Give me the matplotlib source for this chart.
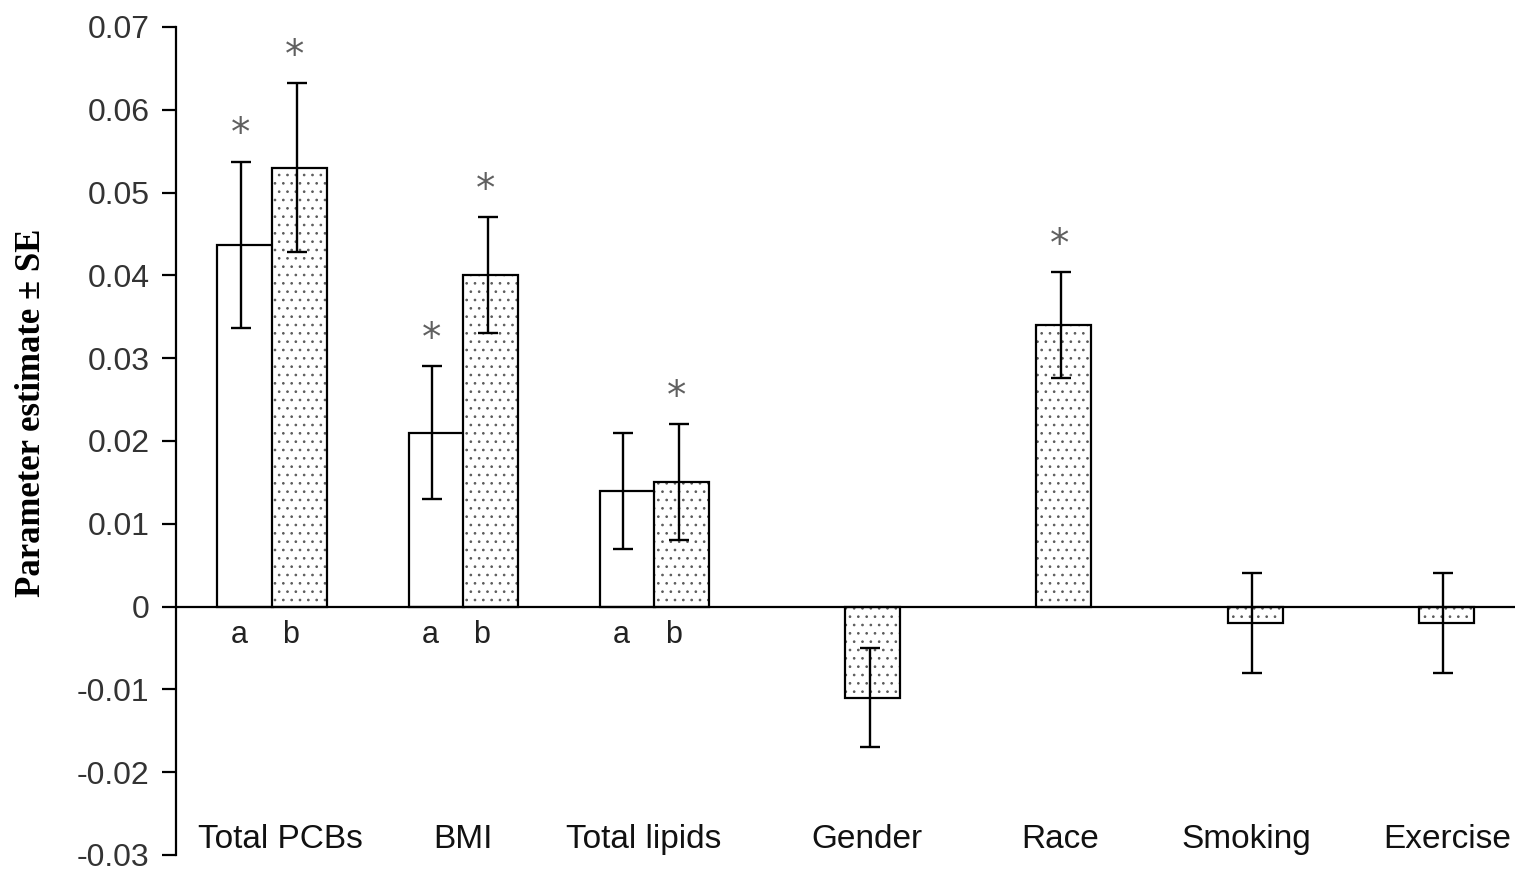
import numpy as np
import matplotlib
matplotlib.use("Agg")
from matplotlib import pyplot as plt

plt.rcParams['font.family'] = ['Liberation Sans', 'DejaVu Sans']
plt.rcParams['hatch.linewidth'] = 0.7

# categories and values
categories = ["Total PCBs", "BMI", "Total lipids", "Gender", "Race", "Smoking", "Exercise"]

# model a (only the first three predictors)
a_est = [0.0437, 0.021, 0.014]
a_se = [0.0100, 0.008, 0.007]
a_sig = [True, True, False]

# model b (all predictors)
b_est = [0.053, 0.040, 0.015, -0.011, 0.034, -0.002, -0.002]
b_se = [0.0102, 0.007, 0.007, 0.006, 0.0064, 0.006, 0.006]
b_sig = [True, True, True, False, True, False, False]

yticks = [0.07, 0.06, 0.05, 0.04, 0.03, 0.02, 0.01, 0, -0.01, -0.02, -0.03]
ytick_labels = ["0.07", "0.06", "0.05", "0.04", "0.03", "0.02", "0.01", "0", "-0.01", "-0.02", "-0.03"]

width = 0.288
xb = np.arange(len(categories))
xa = xb[:len(a_est)] - 0.285
# horizontal nudge of each category label relative to its b bar
label_off = [-0.1, -0.147, -0.2, -0.03, -0.02, -0.045, 0.005]

fig = plt.figure(figsize=(15.24, 8.69), dpi=100)
ax = fig.add_axes([176/1524, 14/869, (1515-176)/1524, (855-27)/869])

# open bars (a)
ax.bar(xa, a_est, width, color="white", edgecolor="black", linewidth=1.6, zorder=2)
# dotted bars (b): hatch layer then outline
ax.bar(xb, b_est, width, color="white", edgecolor="#5a5a5a", hatch="..", linewidth=0, zorder=2)
ax.bar(xb, b_est, width, color="none", edgecolor="black", linewidth=1.6, zorder=3)

ax.errorbar(xa - 0.02, a_est, yerr=a_se, fmt="none", ecolor="black", elinewidth=1.7,
            capsize=7, capthick=1.7, zorder=4)
ax.errorbar(xb - 0.015, b_est, yerr=b_se, fmt="none", ecolor="black", elinewidth=1.7,
            capsize=7, capthick=1.7, zorder=4)

# significance asterisks
for x, v, s, sig in list(zip(xa, a_est, a_se, a_sig)) + list(zip(xb, b_est, b_se, b_sig)):
    if sig:
        ax.text(x - 0.025, v + s + 0.005 - 0.0030, "*", ha="center", va="baseline",
                fontsize=28, color="#606060", family="DejaVu Sans")

# a / b labels under the paired bars
for i in range(len(a_est)):
    ax.text(xa[i] - 0.03, -0.0034, "a", ha="center", va="center", fontsize=22, color="#222222")
    ax.text(xb[i] - 0.045, -0.0034, "b", ha="center", va="center", fontsize=22, color="#222222")

# category labels inside the axes near the bottom
for i, c in enumerate(categories):
    ax.text(xb[i] + label_off[i], -0.0281, c, ha="center", va="center", fontsize=24,
            color="#111111")

ax.axhline(0, color="black", linewidth=1.6, zorder=5)

ax.set_xlim(-0.646, 6.36)
ax.set_ylim(-0.03, 0.07)
ax.set_yticks(yticks)
ax.set_yticklabels(ytick_labels)
ax.set_xticks([])
ax.tick_params(axis="y", direction="out", length=10, width=1.6, pad=9,
               labelsize=23, labelcolor="#333333")
for side in ["top", "right", "bottom"]:
    ax.spines[side].set_visible(False)
ax.spines["left"].set_linewidth(1.6)

fig.text(32/1524, 1 - 413/869, "Parameter estimate \u00b1 SE", rotation=90,
         ha="center", va="center", fontsize=25, fontweight="bold",
         family="Liberation Serif")

plt.savefig("out.png", dpi=100)
